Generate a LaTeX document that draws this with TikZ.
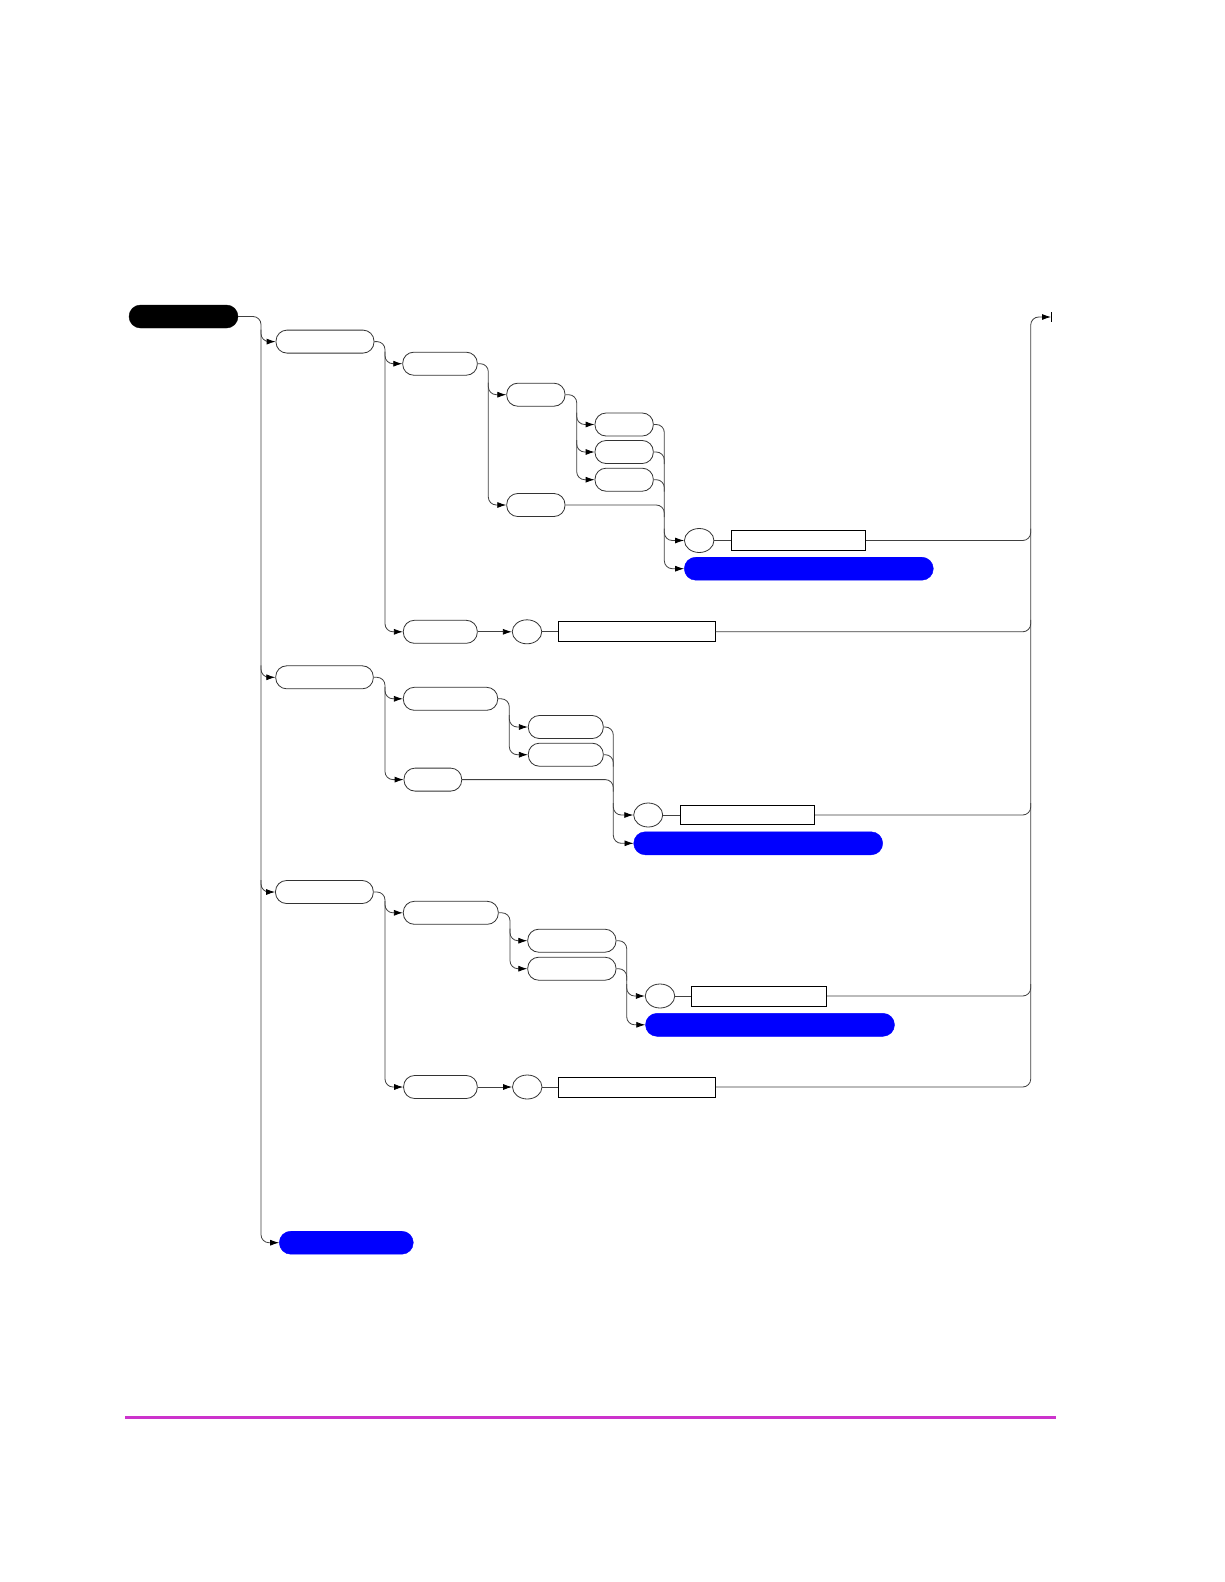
\documentclass[tikz,border=0pt]{standalone}
\usetikzlibrary{shapes.geometric,arrows.meta,calc}
\definecolor{pblue}{RGB}{0,0,255}
\definecolor{pmag}{RGB}{204,51,204}
\tikzset{
  pill/.style={draw=black!80, line width=0.8pt, rectangle, rounded corners=11pt, minimum height=23pt, inner sep=0pt, fill=white},
  bpill/.style={draw=pblue, fill=pblue, rectangle, rounded corners=11.5pt, minimum height=23pt, minimum width=249pt, inner sep=0pt},
  rootpill/.style={draw=black, fill=black, rectangle, rounded corners=11.5pt, minimum height=23pt, inner sep=0pt},
  oval/.style={draw=black!80, line width=0.8pt, ellipse, minimum width=29.5pt, minimum height=24pt, inner sep=0pt, fill=white},
  box/.style={draw=black, line width=1pt, rectangle, minimum height=20pt, inner sep=0pt, fill=white},
  conn/.style={draw=black!75, line width=0.8pt, rounded corners=8pt},
  arr/.style={conn, -{Latex[length=9pt,width=6pt,color=black]}},
}
\begin{document}
\begin{tikzpicture}[x=1pt,y=-1pt]
\useasboundingbox[fill=white] (0,0) rectangle (1224,1582);
% nodes
\node[rootpill, minimum width=109pt] (root) at (183.5,316.5) {};
\node[pill, minimum width=98pt] (A1) at (325,341.6) {};
\node[pill, minimum width=74.6pt] (B1) at (440,363.7) {};
\node[pill, minimum width=58.3pt] (C1) at (535.85,394.7) {};
\node[pill, minimum width=58.3pt] (C1b) at (535.85,505) {};
\node[pill, minimum width=58.3pt] (D1) at (624.15,424.5) {};
\node[pill, minimum width=58.3pt] (D2) at (624.15,452) {};
\node[pill, minimum width=58.3pt] (D3) at (624.15,479.7) {};
\node[oval] (E1) at (699.2,540.5) {};
\node[box, minimum width=134.7pt] (R1) at (798.35,540.5) {};
\node[bpill] (F1) at (808.8,568.7) {};
\node[pill, minimum width=74pt] (H1) at (440.3,631.8) {};
\node[oval] (HC1) at (527,631.8) {};
\node[box, minimum width=156.7pt] (HR1) at (636.65,631.8) {};
\node[pill, minimum width=97.6pt] (A2) at (324.5,677.3) {};
\node[pill, minimum width=94.4pt] (B2) at (450.5,698.8) {};
\node[pill, minimum width=57.7pt] (B2b) at (432.85,779.6) {};
\node[pill, minimum width=75pt] (C21) at (565.8,727) {};
\node[pill, minimum width=75pt] (C22) at (565.8,754.7) {};
\node[oval, minimum width=29pt] (E2) at (648.2,815) {};
\node[box, minimum width=134.4pt, minimum height=19pt] (R2) at (747.5,815) {};
\node[bpill] (F2) at (758.2,843.3) {};
\node[pill, minimum width=97.8pt] (A3) at (324.4,892) {};
\node[pill, minimum width=95pt] (B3) at (450.8,912.8) {};
\node[pill, minimum width=88.3pt] (C31) at (571.85,940.7) {};
\node[pill, minimum width=88.3pt] (C32) at (571.85,968.7) {};
\node[oval] (E3) at (660,996) {};
\node[box, minimum width=135.7pt] (R3) at (758.85,996) {};
\node[bpill] (F3) at (770,1024.8) {};
\node[pill, minimum width=73.7pt] (H3) at (440.45,1087) {};
\node[oval] (HC3) at (527.25,1087) {};
\node[box, minimum width=157.3pt] (HR3) at (636.65,1087) {};
\node[bpill, minimum width=134pt] (Z) at (346.3,1242.7) {};
% bus coordinates
\coordinate (v0) at (261,316.5);
\coordinate (vA) at (385,341.6);
\coordinate (vB1) at (488.3,363.7);
\coordinate (vC1) at (576.7,394.7);
\coordinate (m1) at (664.3,424.5);
\coordinate (vB2) at (509.3,698.8);
\coordinate (m2) at (613.3,727);
\coordinate (vB3) at (510,912.8);
\coordinate (m3) at (626.7,940.7);
\coordinate (rb) at (1030.7,317);
\coordinate (endpt) at (1051,317);
% level 0
\draw[arr] (root.east) -| (v0 |- Z.west) -- (Z.west);
\foreach \c in {A1,A2,A3}{\draw[arr] ($(v0 |- \c.west)+(0,-12)$) |- (\c.west);}
% section 1
\draw[arr] (A1.east) -| (vA |- H1.west) -- (H1.west);
\draw[arr] ($(vA |- B1.west)+(0,-12)$) |- (B1.west);
\draw[arr] (B1.east) -| (vB1 |- C1b.west) -- (C1b.west);
\draw[arr] ($(vB1 |- C1.west)+(0,-12)$) |- (C1.west);
\draw[arr] (C1.east) -| (vC1 |- D3.west) -- (D3.west);
\foreach \c in {D1,D2}{\draw[arr] ($(vC1 |- \c.west)+(0,-12)$) |- (\c.west);}
\draw[arr] (D1.east) -| (m1 |- F1.west) -- (F1.west);
\foreach \s in {D2,D3,C1b}{\draw[conn] (\s.east) -| ($(m1 |- \s.east)+(0,12)$);}
\draw[arr] ($(m1 |- E1.west)+(0,-12)$) |- (E1.west);
\draw[conn] (E1.east) -- (R1.west);
\draw[arr] (H1.east) -- (HC1.west);
\draw[conn] (HC1.east) -- (HR1.west);
% section 2
\draw[arr] (A2.east) -| (vA |- B2b.west) -- (B2b.west);
\draw[arr] ($(vA |- B2.west)+(0,-12)$) |- (B2.west);
\draw[arr] (B2.east) -| (vB2 |- C22.west) -- (C22.west);
\draw[arr] ($(vB2 |- C21.west)+(0,-12)$) |- (C21.west);
\draw[arr] (C21.east) -| (m2 |- F2.west) -- (F2.west);
\foreach \s in {C22,B2b}{\draw[conn] (\s.east) -| ($(m2 |- \s.east)+(0,12)$);}
\draw[arr] ($(m2 |- E2.west)+(0,-12)$) |- (E2.west);
\draw[conn] (E2.east) -- (R2.west);
% section 3
\draw[arr] (A3.east) -| (vA |- H3.west) -- (H3.west);
\draw[arr] ($(vA |- B3.west)+(0,-12)$) |- (B3.west);
\draw[arr] (B3.east) -| (vB3 |- C32.west) -- (C32.west);
\draw[arr] ($(vB3 |- C31.west)+(0,-12)$) |- (C31.west);
\draw[arr] (C31.east) -| (m3 |- F3.west) -- (F3.west);
\draw[conn] (C32.east) -| ($(m3 |- C32.east)+(0,12)$);
\draw[arr] ($(m3 |- E3.west)+(0,-12)$) |- (E3.west);
\draw[conn] (E3.east) -- (R3.west);
\draw[arr] (H3.east) -- (HC3.west);
\draw[conn] (HC3.east) -- (HR3.west);
% right bus
\draw[arr] (HR3.east) -| (rb) -- (endpt);
\foreach \s in {R1,HR1,R2,R3}{\draw[conn] (\s.east) -| ($(rb |- \s.east)+(0,-12)$);}
\draw[black, line width=0.8pt] ([yshift=5pt]endpt) -- ([yshift=-5pt]endpt);
% footer rule
\coordinate (f1) at (125,1417.7);
\coordinate (f2) at (1056,1417.7);
\draw[pmag, line width=2.5pt] (f1) -- (f2);
\end{tikzpicture}
\end{document}
